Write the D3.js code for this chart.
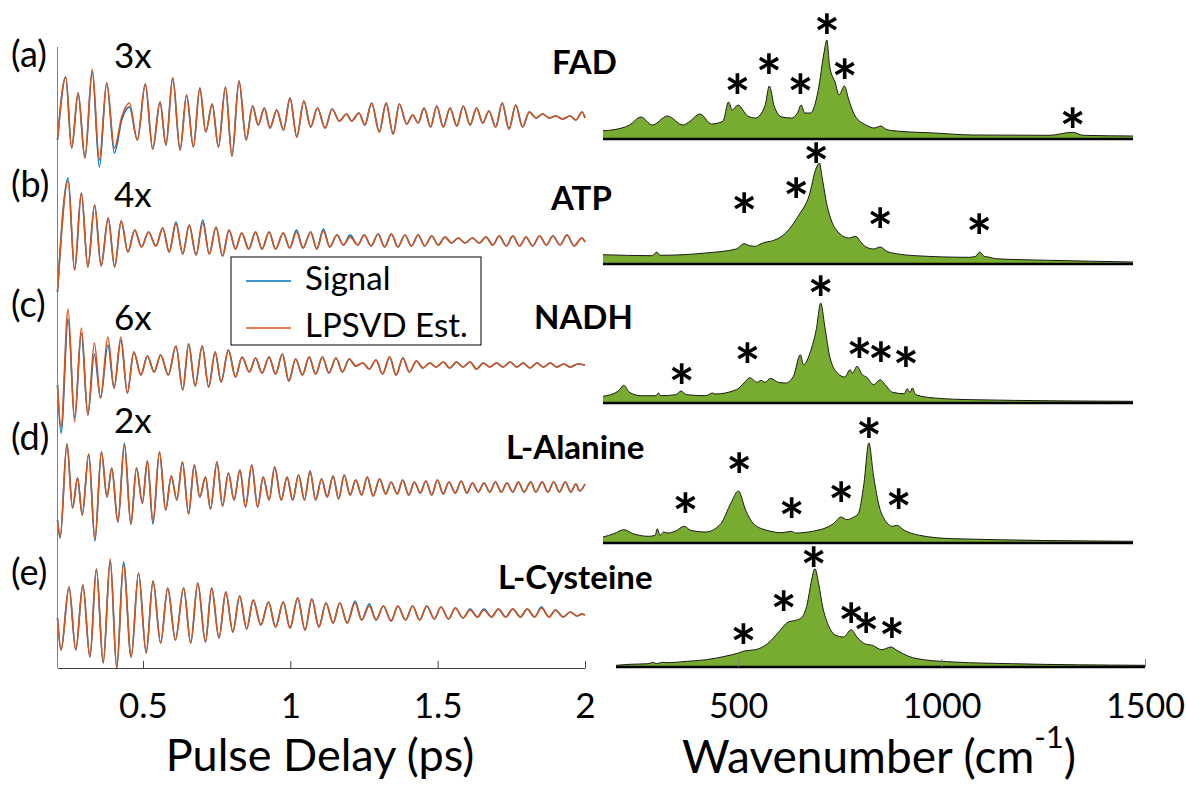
<!DOCTYPE html>
<html>
<head>
<meta charset="utf-8">
<script src="https://cdn.jsdelivr.net/npm/d3@7"></script>
<style>
    body { margin: 0; background: #fff; }
    svg text { font-family: Lato, "Open Sans", sans-serif; fill: #000; }
</style>
</head>
<body>
<svg id="chart" width="1186" height="790"></svg>
<script>

// ---------- data ----------

const panelLabels = ["(a)", "(b)", "(c)", "(d)", "(e)"];
const gainLabels = ["3x", "4x", "6x", "2x", ""];
const compounds = ["FAD", "ATP", "NADH", "L-Alanine", "L-Cysteine"];
const timeTicks = [0.5, 1, 1.5, 2];
const waveTicks = [500, 1000, 1500];
const legendLabels = ["Signal", "LPSVD Est."];

// time traces: [pulse delay (ps), amplitude (a.u.)] at each turning point of the LPSVD estimate
const estA = [[0.210,-2.2],[0.238,4.1],[0.258,-3.0],[0.280,2.5],[0.303,-4.0],[0.328,4.9],[0.352,-4.2],[0.377,3.5],[0.403,-3.0],[0.428,0.1],[0.454,1.5],[0.481,-2.2],[0.508,3.4],[0.533,-3.1],[0.558,1.6],[0.578,-2.7],[0.601,4.0],[0.626,-3.2],[0.648,2.3],[0.671,-2.9],[0.693,3.0],[0.713,-1.4],[0.735,1.4],[0.756,-2.9],[0.780,3.1],[0.802,-3.8],[0.826,3.7],[0.850,-2.2],[0.872,1.2],[0.891,-0.7],[0.912,1.0],[0.931,-1.0],[0.954,0.8],[0.977,-1.2],[0.999,2.0],[1.022,-1.9],[1.046,1.7],[1.069,-0.9],[1.092,1.0],[1.118,-1.0],[1.142,0.9],[1.166,-0.3],[1.191,0.4],[1.208,-0.3],[1.233,0.5],[1.253,-0.7],[1.276,1.5],[1.302,-1.4],[1.325,1.5],[1.349,-1.6],[1.370,1.4],[1.395,-0.6],[1.415,0.3],[1.434,-0.5],[1.454,1.0],[1.476,-0.9],[1.497,1.2],[1.519,-0.9],[1.542,1.0],[1.565,-0.8],[1.587,1.2],[1.610,-0.7],[1.632,1.0],[1.653,-0.5],[1.674,0.7],[1.697,-0.9],[1.719,1.5],[1.742,-1.1],[1.765,1.3],[1.788,-0.9],[1.811,0.6],[1.834,0.0],[1.856,0.4],[1.879,0.0],[1.901,0.2],[1.924,-0.1],[1.949,0.2],[1.969,-0.2],[1.990,0.6],[2.000,0.0]];
const estB = [[0.210,-5.0],[0.246,6.1],[0.268,-2.8],[0.291,4.9],[0.313,-2.5],[0.336,3.7],[0.358,-2.4],[0.382,2.4],[0.404,-2.5],[0.426,2.1],[0.449,-1.0],[0.472,1.2],[0.495,-0.5],[0.519,1.0],[0.544,-0.4],[0.567,1.4],[0.589,-1.0],[0.612,1.8],[0.635,-1.2],[0.657,1.7],[0.680,-1.3],[0.703,1.9],[0.725,-1.2],[0.748,1.5],[0.770,-1.4],[0.792,1.2],[0.814,-0.7],[0.835,0.9],[0.859,-0.7],[0.882,1.0],[0.904,-0.7],[0.928,1.0],[0.950,-0.7],[0.976,0.9],[0.998,-0.6],[1.021,1.0],[1.043,-0.6],[1.069,1.0],[1.090,-0.7],[1.112,1.1],[1.134,-0.5],[1.158,0.7],[1.180,-0.3],[1.203,0.5],[1.229,-0.3],[1.251,0.7],[1.274,-0.4],[1.298,0.8],[1.320,-0.5],[1.343,0.8],[1.365,-0.5],[1.389,0.7],[1.411,-0.4],[1.434,0.7],[1.456,-0.4],[1.480,0.6],[1.502,-0.3],[1.525,0.5],[1.547,-0.1],[1.570,0.4],[1.593,-0.1],[1.618,0.4],[1.641,-0.1],[1.664,0.5],[1.687,-0.3],[1.709,0.6],[1.733,-0.4],[1.755,0.6],[1.778,-0.4],[1.800,0.5],[1.822,-0.4],[1.846,0.6],[1.869,-0.3],[1.891,0.6],[1.915,-0.3],[1.939,0.7],[1.963,-0.4],[1.989,0.4],[2.000,0.0]];
const estC = [[0.210,-2.0],[0.222,-6.2],[0.246,5.6],[0.268,-5.7],[0.291,3.7],[0.313,-5.0],[0.335,2.2],[0.356,-3.3],[0.381,2.8],[0.402,-2.3],[0.425,2.8],[0.447,-2.8],[0.469,1.3],[0.493,-1.0],[0.515,0.9],[0.538,-0.7],[0.560,1.0],[0.586,-1.0],[0.612,1.9],[0.635,-2.5],[0.655,2.1],[0.677,-2.1],[0.701,1.9],[0.723,-2.2],[0.745,1.3],[0.765,-1.7],[0.790,1.5],[0.814,-1.2],[0.836,0.8],[0.861,-0.7],[0.882,0.7],[0.904,-0.8],[0.928,0.8],[0.950,-0.9],[0.973,1.1],[0.995,-1.6],[1.018,0.6],[1.041,-1.0],[1.064,0.8],[1.086,-0.9],[1.109,0.8],[1.131,-0.8],[1.155,0.7],[1.177,-0.7],[1.200,0.6],[1.222,-0.1],[1.246,0.2],[1.268,-0.4],[1.291,0.5],[1.313,-0.9],[1.337,0.8],[1.359,-1.0],[1.382,0.7],[1.404,-0.7],[1.428,0.4],[1.450,-0.3],[1.473,0.2],[1.495,-0.2],[1.519,0.3],[1.541,-0.3],[1.564,0.3],[1.586,-0.2],[1.610,0.3],[1.632,-0.4],[1.655,0.2],[1.677,-0.2],[1.700,0.2],[1.722,-0.2],[1.746,0.3],[1.768,-0.2],[1.791,0.2],[1.813,-0.3],[1.837,0.2],[1.859,-0.2],[1.882,0.2],[1.904,-0.2],[1.928,0.1],[1.950,-0.2],[1.976,0.1],[2.000,0.0]];
const estD = [[0.210,-3.2],[0.219,-4.9],[0.242,4.4],[0.261,-2.0],[0.278,1.0],[0.294,-2.7],[0.316,3.4],[0.337,-5.1],[0.359,3.6],[0.378,-0.9],[0.394,2.0],[0.415,-3.4],[0.437,4.3],[0.459,-3.6],[0.478,2.0],[0.498,-1.5],[0.515,2.7],[0.534,-3.3],[0.556,3.6],[0.577,-2.2],[0.596,1.2],[0.615,-1.2],[0.634,2.6],[0.655,-2.6],[0.674,2.3],[0.693,-0.9],[0.712,1.1],[0.729,-2.1],[0.751,2.6],[0.770,-1.8],[0.790,1.5],[0.809,-1.2],[0.829,1.8],[0.848,-1.9],[0.869,2.3],[0.889,-1.9],[0.908,1.1],[0.928,-1.2],[0.947,2.1],[0.969,-1.2],[0.989,1.1],[1.008,-1.2],[1.028,1.3],[1.048,-1.2],[1.067,1.7],[1.086,-1.2],[1.106,0.9],[1.125,-0.9],[1.145,1.2],[1.164,-1.1],[1.183,1.3],[1.203,-0.7],[1.222,0.8],[1.242,-0.7],[1.261,1.1],[1.281,-0.8],[1.303,0.9],[1.324,-0.6],[1.342,0.6],[1.363,-0.6],[1.381,0.8],[1.402,-0.7],[1.421,0.6],[1.441,-0.5],[1.460,0.7],[1.480,-0.7],[1.499,0.8],[1.519,-0.6],[1.538,0.6],[1.560,-0.5],[1.580,0.7],[1.599,-0.5],[1.618,0.5],[1.638,-0.4],[1.657,0.5],[1.677,-0.4],[1.696,0.6],[1.716,-0.4],[1.735,0.5],[1.755,-0.4],[1.774,0.6],[1.793,-0.4],[1.816,0.6],[1.833,-0.4],[1.855,0.6],[1.874,-0.4],[1.894,0.6],[1.913,-0.4],[1.933,0.6],[1.952,-0.4],[1.969,0.4],[1.982,-0.3],[2.000,0.4]];
const estE = [[0.210,-0.3],[0.222,-3.5],[0.249,2.8],[0.272,-3.5],[0.296,3.0],[0.320,-4.2],[0.342,4.6],[0.365,-4.8],[0.389,5.6],[0.411,-5.3],[0.434,5.0],[0.460,-4.2],[0.485,4.2],[0.511,-3.8],[0.534,3.4],[0.560,-2.8],[0.584,2.7],[0.610,-2.5],[0.638,2.7],[0.662,-2.8],[0.686,3.2],[0.712,-2.7],[0.733,2.7],[0.758,-2.3],[0.781,2.3],[0.805,-1.7],[0.828,1.9],[0.852,-1.4],[0.874,1.5],[0.900,-1.0],[0.926,1.3],[0.950,-1.2],[0.976,1.3],[0.999,-1.3],[1.025,1.7],[1.050,-1.5],[1.073,1.6],[1.097,-1.2],[1.121,1.2],[1.145,-0.8],[1.168,1.2],[1.193,-0.8],[1.220,1.2],[1.242,-0.5],[1.268,0.9],[1.291,-0.5],[1.316,0.9],[1.342,-0.6],[1.365,0.9],[1.391,-0.5],[1.415,0.9],[1.439,-0.5],[1.463,0.9],[1.489,-0.4],[1.511,0.8],[1.537,-0.4],[1.560,0.7],[1.586,-0.3],[1.610,0.5],[1.635,-0.2],[1.657,0.5],[1.683,-0.2],[1.706,0.6],[1.731,-0.2],[1.755,0.6],[1.781,-0.2],[1.804,0.6],[1.829,-0.2],[1.852,0.7],[1.878,-0.2],[1.900,0.5],[1.926,-0.2],[1.950,0.3],[1.973,-0.1],[1.989,0.1],[2.000,0.0]];

// measured signal, where it visibly departs from the estimate: [delay, amplitude]
const sigFixA = [[0.328,4.6],[0.352,-4.9],[0.403,-3.5],[0.428,-0.2],[0.454,1.1]];
const sigFixB = [[0.246,6.4],[0.612,2.0],[0.703,2.2],[1.021,1.2],[1.112,1.3],[1.203,0.7]];
const sigFixC = [[0.222,-6.8],[0.246,4.6],[0.268,-5.3],[0.291,3.2],[0.335,1.1],[0.381,2.0],[0.425,2.5]];
const sigFixD = [[0.219,-5.0],[0.337,-5.3],[0.437,4.5],[0.534,-3.6]];
const sigFixE = [[0.389,5.4],[0.434,5.3],[1.220,1.4],[1.268,1.1],[1.610,0.6],[1.657,0.6],[1.852,0.8]];

// spectra: [wavenumber (cm-1), normalised amplitude (%)]
const specFAD = [[200,8.3],[227,9.3],[265,14],[293,22],[321,14],[358,23],[396,14],[410,16.7],[438,25],[466,15],[494,17.7],[508,37],[517,29],[531,34],[555,23],[574,21],[597,32.7],[608,53],[620,32.7],[639,22],[662,21],[677,26],[686,34],[695,26],[709,26],[728,49],[742,86],[749,99],[756,72.7],[770,56],[779,44],[792,53],[803,39],[817,24],[845,14],[865,11],[882,13],[895,9.5],[920,8],[1013,6],[1107,4],[1294,3.7],[1352,6.7],[1378,3.7],[1500,3]];
const specATP = [[200,9.3],[321,8.3],[332,12],[340,8.7],[452,11],[527,15],[546,20.3],[560,18.3],[574,17.7],[583,19.3],[597,21.7],[611,22.7],[648,31],[681,49.3],[705,67.7],[723,96],[731,101],[737,87.7],[750,57.7],[761,42.7],[779,31],[803,26],[820,27.7],[831,22.7],[845,17],[864,15],[880,17],[896,12.7],[920,10.3],[967,8.3],[1098,6.7],[1114,7.7],[1124,12],[1135,7.7],[1146,7],[1163,5.3],[1294,3.7],[1500,2]];
const specNADH = [[200,6.7],[237,11.7],[251,17.7],[265,10.7],[293,7.3],[330,7.3],[336,10],[342,7.3],[379,8.3],[391,12],[405,8.3],[452,7.3],[469,10],[475,9],[527,13.3],[546,20],[560,25.3],[578,20.7],[588,22.7],[597,20.7],[611,24.7],[630,20.7],[648,20],[667,26.7],[684,48.3],[692,38.3],[709,51.7],[723,73.3],[734,100],[744,76.7],[756,46.7],[775,30],[793,26],[806,33.3],[812,30],[823,36.7],[836,28.3],[847,25.7],[864,18.3],[880,23.3],[892,18.3],[910,10.7],[939,9.3],[946,14.3],[953,10.7],[959,15],[967,8.3],[1013,5],[1107,3.3],[1500,1.7]];
const specAla = [[200,6],[227,9.3],[251,13.3],[274,9.3],[312,6.7],[328,7.7],[333,14.3],[340,7.7],[349,11],[358,10],[377,11.7],[399,16.7],[415,12.7],[452,11],[489,19.3],[513,39.3],[532,52],[550,32.7],[569,19.3],[602,12.7],[639,10.3],[662,11.7],[672,10],[714,11.7],[751,16],[765,19.3],[784,26],[798,23.3],[812,25.3],[826,29.3],[840,59.3],[852,100],[864,66],[878,36],[892,22.7],[910,16.7],[920,17.7],[939,12.7],[976,7.7],[1060,4.3],[1500,1.7]];
const specCys = [[200,1.7],[234,2.7],[281,3.3],[290,4.7],[300,3.3],[314,4.7],[328,4.3],[375,5.7],[422,7.3],[468,10.7],[501,14],[515,16],[543,17.3],[572,23.3],[600,35],[623,45],[642,46.7],[656,49.3],[670,63.3],[679,83.3],[689,98.3],[698,83.3],[708,60],[722,41.7],[740,31.7],[759,30],[778,37.3],[792,30],[811,23.3],[830,21.7],[853,17.3],[876,20],[890,16.7],[919,10.7],[956,7.3],[1031,5],[1172,3.3],[1500,1.7]];

// asterisk marks: [wavenumber, height (%)]
const starsFAD = [[530,56.7],[607,76.7],[684,56.7],[749,116.7],[793,71.7],[1352,22]];
const starsATP = [[546,62.7],[674,77.7],[723,112.7],[880,47.7],[1123,41.7]];
const starsNADH = [[393,30],[554,51.7],[734,118],[829,56],[882,52.7],[943,47.3]];
const starsAla = [[402,41],[534,81],[663,36],[784,52],[852,116.7],[925,45]];
const starsCys = [[513,34],[612,67],[686,111.7],[778,55],[815,45.7],[878,40]];

// ---------- layout ----------

const estimates = [estA, estB, estC, estD, estE];
const sigFixes = [sigFixA, sigFixB, sigFixC, sigFixD, sigFixE];
const spectra = [specFAD, specATP, specNADH, specAla, specCys];
const stars = [starsFAD, starsATP, starsNADH, starsAla, starsCys];

const traceCenters = [118, 242, 365, 488, 615];
const specBases = [139, 264, 403, 543, 667];
const nameX = [552, 551, 534, 506, 498];
const nameY = [74, 210, 329, 459, 589];
const labelY = [67, 197, 317, 450, 585];
const gainY = [68, 207, 330, 433, 0];

const blue = "#0072BD", orange = "#D95319", green = "#77AC30";

const svg = d3.select("#chart");

// ---------- left: time traces ----------

const xTime = d3.scaleLinear().domain([0.21, 2]).range([57.5, 585]);

let left = svg.append("g").attr("class", "traces");

estimates.forEach((est, i) => {
    let yc = traceCenters[i];
    let y = d3.scaleLinear().domain([-1, 1]).range([yc + 10, yc - 10]);

    let line = d3.line()
        .x(d => xTime(d[0]))
        .y(d => y(d[1]))
        .curve(d3.curveMonotoneX);

    // signal = estimate except where the measured trace sits visibly apart
    let fix = new Map(sigFixes[i]);
    let sig = est.map(d => [d[0], fix.has(d[0]) ? fix.get(d[0]) : d[1]]);

    left.append("path")
        .datum(sig)
        .attr("fill", "none")
        .attr("stroke", blue)
        .attr("stroke-width", 1.6)
        .attr("d", line);

    left.append("path")
        .datum(est)
        .attr("fill", "none")
        .attr("stroke", orange)
        .attr("stroke-width", 1.6)
        .attr("d", line);

    svg.append("text")
        .attr("x", 11)
        .attr("y", labelY[i])
        .attr("font-size", 36)
        .text(panelLabels[i]);

    if (gainLabels[i]) {
        svg.append("text")
            .attr("x", 114)
            .attr("y", gainY[i])
            .attr("font-size", 35)
            .text(gainLabels[i]);
    }
});

// left axis line
svg.append("line")
    .attr("x1", 57.5).attr("x2", 57.5)
    .attr("y1", 47).attr("y2", 668)
    .attr("stroke", "#808080")
    .attr("stroke-width", 1);

// bottom time axis, ticks pointing inward
let timeAxis = d3.axisBottom(xTime)
    .tickValues(timeTicks)
    .tickFormat(d => d)
    .tickSizeInner(-7)
    .tickSizeOuter(0)
    .tickPadding(25);

let gTime = svg.append("g")
    .attr("transform", "translate(0,668)")
    .call(timeAxis);
gTime.select(".domain").attr("stroke", "#404040");
gTime.selectAll(".tick line").attr("stroke", "#404040");
gTime.selectAll("text")
    .attr("font-size", 35)
    .attr("fill", "#262626")
    .style("font-family", "Lato, sans-serif");

svg.append("text")
    .attr("x", 320)
    .attr("y", 771)
    .attr("text-anchor", "middle")
    .attr("font-size", 45)
    .attr("fill", "#262626")
    .text("Pulse Delay (ps)");

// legend
let legend = svg.append("g").attr("class", "legend");
legend.append("rect")
    .attr("x", 231).attr("y", 257)
    .attr("width", 250).attr("height", 88)
    .attr("fill", "#fff")
    .attr("stroke", "#000")
    .attr("stroke-width", 1);

[blue, orange].forEach((c, i) => {
    let ly = [281, 328][i];
    legend.append("line")
        .attr("x1", 246).attr("x2", 291)
        .attr("y1", ly).attr("y2", ly)
        .attr("stroke", c)
        .attr("stroke-width", 1.6);
    legend.append("text")
        .attr("x", 305)
        .attr("y", [290, 337][i])
        .attr("font-size", 33)
        .text(legendLabels[i]);
});

// ---------- right: spectra ----------

const xWaveTop = d3.scaleLinear().domain([200, 1500]).range([603, 1133]);
const xWaveBottom = d3.scaleLinear().domain([200, 1500]).range([616, 1145]);

let right = svg.append("g").attr("class", "spectra");

spectra.forEach((spec, i) => {
    let x = i < 4 ? xWaveTop : xWaveBottom;
    let base = specBases[i];
    let y = d3.scaleLinear().domain([0, 100]).range([base, base - 100]);

    let area = d3.area()
        .x(d => x(d[0]))
        .y0(base)
        .y1(d => y(d[1]))
        .curve(d3.curveMonotoneX);

    let outline = d3.line()
        .x(d => x(d[0]))
        .y(d => y(d[1]))
        .curve(d3.curveMonotoneX);

    right.append("path")
        .datum(spec)
        .attr("fill", green)
        .attr("d", area);

    right.append("path")
        .datum(spec)
        .attr("fill", "none")
        .attr("stroke", "#1a1a1a")
        .attr("stroke-width", 1)
        .attr("d", outline);

    right.append("line")
        .attr("x1", x(200)).attr("x2", x(1500))
        .attr("y1", base).attr("y2", base)
        .attr("stroke", "#000")
        .attr("stroke-width", 2.5);

    right.selectAll(null)
        .data(stars[i])
        .enter()
        .append("text")
        .attr("x", d => x(d[0]))
        .attr("y", d => y(d[1]))
        .attr("dy", "0.6em")
        .attr("text-anchor", "middle")
        .attr("font-size", 62)
        .attr("font-weight", "bold")
        .text("*");

    svg.append("text")
        .attr("x", nameX[i])
        .attr("y", nameY[i])
        .attr("font-size", 33)
        .attr("font-weight", "bold")
        .text(compounds[i]);
});

// wavenumber axis under the last spectrum
let waveAxis = d3.axisBottom(xWaveBottom)
    .tickValues(waveTicks)
    .tickFormat(d => d)
    .tickSizeInner(-8)
    .tickSizeOuter(0)
    .tickPadding(27);

let gWave = svg.append("g")
    .attr("transform", "translate(0,667)")
    .call(waveAxis);
gWave.select(".domain").remove();
gWave.selectAll(".tick line").attr("stroke", "#808080");
gWave.selectAll("text")
    .attr("font-size", 34)
    .attr("fill", "#262626")
    .style("font-family", "Lato, sans-serif");

let waveTitle = svg.append("text")
    .attr("x", 879)
    .attr("y", 773)
    .attr("text-anchor", "middle")
    .attr("font-size", 46)
    .attr("fill", "#262626");
waveTitle.append("tspan").text("Wavenumber (cm");
waveTitle.append("tspan").attr("dy", -25).attr("font-size", 31).text("-1");
waveTitle.append("tspan").attr("dy", 25).text(")");

</script>
</body>
</html>
